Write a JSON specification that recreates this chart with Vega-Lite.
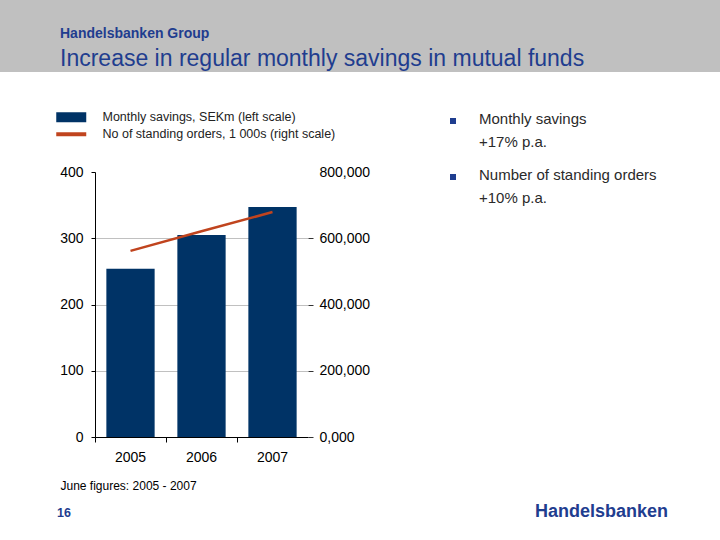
{
  "$schema": "https://vega.github.io/schema/vega-lite/v6.json",
  "background": "white",
  "padding": 0,
  "spacing": 0,
  "config": {"view": {"stroke": null}, "font": "Liberation Sans"},
  "resolve": {"scale": {"color": "independent"}, "legend": {"color": "independent"}},
  "vconcat": [
    {
      "width": 720,
      "height": 72,
      "view": {"fill": "#c0c0c0", "stroke": null},
      "data": {"values": []},
      "mark": "point",
      "title": {
        "text": "Handelsbanken Group",
        "subtitle": "Increase in regular monthly savings in mutual funds",
        "orient": "top",
        "anchor": "start",
        "frame": "group",
        "dx": 60,
        "dy": 75,
        "font": "Liberation Sans",
        "fontSize": 14,
        "fontWeight": "bold",
        "color": "#1f3d8f",
        "subtitleFont": "Liberation Sans",
        "subtitleFontSize": 23,
        "subtitleColor": "#1f3d8f",
        "subtitlePadding": 7
      }
    },
    {
      "width": 720,
      "height": 39,
      "data": {"values": []},
      "mark": "point"
    },
    {
      "spacing": 0,
      "resolve": {"scale": {"color": "independent"}, "legend": {"color": "independent"}},
      "hconcat": [
        {"width": 59, "height": 10, "data": {"values": []}, "mark": "point"},
        {
          "width": 213,
          "height": 265,
          "data": {
            "values": [
              {"year": "2005", "savings": 254, "orders": 562000},
              {"year": "2006", "savings": 305, "orders": 621000},
              {"year": "2007", "savings": 347, "orders": 679000}
            ]
          },
          "encoding": {
            "x": {
              "field": "year",
              "type": "ordinal",
              "scale": {"paddingInner": 0, "paddingOuter": 0},
              "axis": {
                "title": "June figures: 2005 - 2007",
                "titleX": -35,
                "titleY": 52,
                "titleAlign": "left",
                "titleBaseline": "alphabetic",
                "titleFontSize": 12,
                "titleFontWeight": "normal",
                "titleColor": "#000",
                "labelAngle": 0,
                "labelFontSize": 14,
                "labelColor": "#000",
                "labelPadding": 8,
                "tickSize": 5,
                "tickColor": "#000",
                "domainColor": "#000",
                "bandPosition": 0,
                "grid": false
              }
            }
          },
          "layer": [
            {
              "mark": {"type": "bar", "width": {"band": 0.68}},
              "encoding": {
                "y": {
                  "field": "savings",
                  "type": "quantitative",
                  "scale": {"domain": [0, 400]},
                  "axis": {
                    "orient": "left",
                    "values": [0, 100, 200, 300, 400],
                    "title": null,
                    "domainColor": "#000",
                    "tickColor": "#000",
                    "tickSize": 4,
                    "labelFontSize": 14,
                    "labelColor": "#000",
                    "labelPadding": 8,
                    "grid": true,
                    "gridColor": "#c0c0c0",
                    "gridOpacity": {"condition": {"test": "datum.value == 400", "value": 0}, "value": 1}
                  }
                },
                "color": {
                  "datum": "Monthly savings, SEKm (left scale)",
                  "type": "nominal",
                  "scale": {
                    "domain": ["Monthly savings, SEKm (left scale)", "No of standing orders, 1 000s (right scale)"],
                    "range": ["#003366", "#c0441e"]
                  },
                  "legend": {
                    "orient": "none",
                    "legendX": -30,
                    "legendY": -61,
                    "title": null,
                    "direction": "vertical",
                    "symbolSize": 100,
                    "labelOffset": 25,
                    "labelFontSize": 12.5,
                    "labelColor": "#222",
                    "labelLimit": 400,
                    "rowPadding": 4,
                    "symbolStrokeWidth": 0,
                    "encode": {
                      "symbols": {
                        "update": {
                          "shape": {"signal": "datum.value == 'Monthly savings, SEKm (left scale)' ? 'M-3,-1H3V1H-3Z' : 'M-3,-0.4H3V0.4H-3Z'"},
                          "fill": {"signal": "scale('color', datum.value)"},
                          "stroke": {"value": "transparent"},
                          "opacity": {"value": 1}
                        }
                      }
                    }
                  }
                }
              }
            },
            {
              "mark": {"type": "line", "strokeWidth": 2.5},
              "encoding": {
                "y": {
                  "field": "orders",
                  "type": "quantitative",
                  "scale": {"domain": [0, 800000]},
                  "axis": {
                    "orient": "right",
                    "values": [0, 200000, 400000, 600000, 800000],
                    "title": null,
                    "domain": false,
                    "grid": false,
                    "tickSize": 5,
                    "tickColor": "#333",
                    "tickOpacity": {"condition": {"test": "datum.value == 800000", "value": 0}, "value": 1},
                    "labelExpr": "datum.value == 0 ? '0,000' : format(datum.value, ',')",
                    "labelFontSize": 14,
                    "labelColor": "#000",
                    "labelPadding": 6
                  }
                },
                "color": {"datum": "No of standing orders, 1 000s (right scale)", "type": "nominal"}
              }
            }
          ],
          "resolve": {"scale": {"y": "independent"}}
        },
        {"width": 80, "height": 10, "data": {"values": []}, "mark": "point"},
        {
          "width": 220,
          "height": 56,
          "data": {
            "values": [
              {"item": "savings", "text": "Monthly savings\n+17% p.a."},
              {"item": "orders", "text": "Number of standing orders\n+10% p.a."}
            ]
          },
          "encoding": {
            "y": {"field": "item", "type": "nominal", "sort": null, "scale": {"type": "point", "padding": 0}, "axis": null}
          },
          "layer": [
            {
              "mark": {"type": "point", "shape": "square", "filled": true, "size": 36, "color": "#1f3d8f", "opacity": 1},
              "encoding": {"x": {"value": 0}, "yOffset": {"value": -51}}
            },
            {
              "mark": {"type": "text", "align": "left", "baseline": "top", "dx": 26, "dy": -60, "fontSize": 15, "lineHeight": 23, "lineBreak": "\n", "color": "#2a2a2a"},
              "encoding": {"x": {"value": 0}, "text": {"field": "text"}}
            }
          ]
        }
      ]
    },
    {
      "width": 720,
      "height": 26,
      "layer": [
        {
          "data": {"values": [{"label": "16"}]},
          "mark": {"type": "text", "align": "left", "baseline": "alphabetic", "dx": 57, "fontSize": 12.5, "fontWeight": "bold", "color": "#1f3d8f"},
          "encoding": {"x": {"value": 0}, "y": {"value": "height"}, "text": {"field": "label"}}
        },
        {
          "data": {"values": [{"label": "Handelsbanken"}]},
          "mark": {"type": "text", "align": "right", "baseline": "alphabetic", "dx": -52, "fontSize": 18, "fontWeight": "bold", "color": "#1f3d8f"},
          "encoding": {"x": {"value": "width"}, "y": {"value": "height"}, "text": {"field": "label"}}
        }
      ]
    }
  ]
}
